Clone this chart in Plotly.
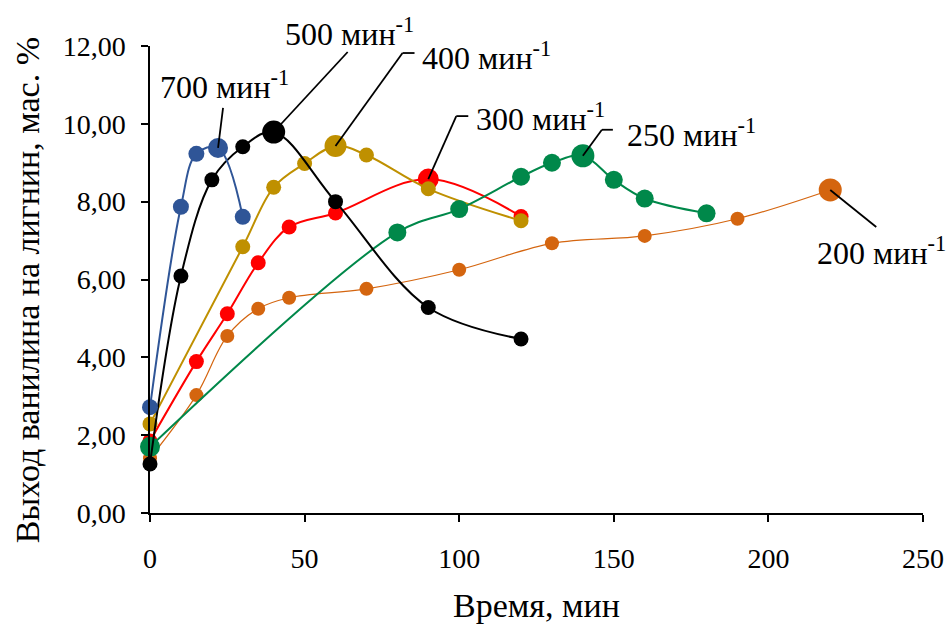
import plotly.graph_objects as go

# ---- data ----
t700 = [0, 10, 15, 22, 30]
y700 = [2.72, 7.87, 9.23, 9.38, 7.61]
t500 = [0, 10, 20, 30, 40, 60, 90, 120]
y500 = [1.26, 6.09, 8.56, 9.41, 9.79, 8.00, 5.28, 4.47]
t400 = [0, 30, 40, 50, 60, 70, 90, 120]
y400 = [2.29, 6.84, 8.37, 8.98, 9.43, 9.20, 8.33, 7.51]
t300 = [0, 15, 25, 35, 45, 60, 90, 120]
y300 = [1.85, 3.89, 5.12, 6.43, 7.35, 7.71, 8.58, 7.62]
t250 = [0, 80, 100, 120, 130, 140, 150, 160, 180]
y250 = [1.70, 7.21, 7.81, 8.64, 9.00, 9.18, 8.56, 8.08, 7.70]
t200 = [0, 15, 25, 35, 45, 70, 100, 130, 160, 190, 220]
y200 = [1.41, 3.03, 4.55, 5.25, 5.53, 5.76, 6.25, 6.93, 7.12, 7.56, 8.30]

labels = ["700", "500", "400", "300", "250", "200"]
label_idx = [3, 4, 4, 6, 5, 10]   # index of the labelled (large) point in each series

x_title = "Время, мин"
y_title = "Выход ванилина на лигнин, мас. %"

FONT = "Liberation Serif, Tinos, Times New Roman, serif"

series = {
    "200": dict(t=t200, y=y200, color="#D4650F", lw=1.2, ms=14, big=23),
    "300": dict(t=t300, y=y300, color="#FF0000", lw=2, ms=15, big=21),
    "400": dict(t=t400, y=y400, color="#BF9000", lw=2, ms=15, big=22),
    "250": dict(t=t250, y=y250, color="#00884A", lw=2, ms=18, big=23),
    "500": dict(t=t500, y=y500, color="#000000", lw=2, ms=15, big=23),
    "700": dict(t=t700, y=y700, color="#2F5597", lw=2, ms=16, big=20),
}

fig = go.Figure()
for name, s in series.items():
    big_i = label_idx[labels.index(name)]
    sizes = [s["ms"]] * len(s["t"])
    sizes[big_i] = s["big"]
    if name == "250":
        sizes[0] = 20
    fig.add_trace(go.Scatter(
        x=s["t"], y=s["y"], mode="lines+markers",
        line=dict(color=s["color"], width=s["lw"], shape="spline", smoothing=1.0),
        marker=dict(color=s["color"], size=sizes, opacity=1, line=dict(width=0)),
        cliponaxis=False, showlegend=False, name=name + " мин-1",
    ))

# leader lines: pixel offsets from the labelled point (dy up positive)
leaders = {
    "700": [(0, 0), (5, 40)],
    "500": [(0, 0), (74, 80)],
    "400": [(0, 0), (67, 93), (79, 93)],
    "300": [(0, 0), (28, 63), (40, 63)],
    "250": [(0, 0), (19, 26), (30, 26)],
    "200": [(0, 0), (46, -37)],
}
# text offsets (left edge dx, middle dy) from labelled point, y down positive in px
text_off = {
    "700": (-60, -63),
    "500": (9, -100),
    "400": (84, -90),
    "300": (46, -62),
    "250": (42, -23),
    "200": (-15, 61),
}

for name in labels:
    s = series[name]
    i = label_idx[labels.index(name)]
    px, py = s["t"][i], s["y"][i]
    pts = leaders[name]
    for (a, b) in zip(pts[:-1], pts[1:]):
        fig.add_shape(type="line", xref="x", yref="y",
                      xsizemode="pixel", ysizemode="pixel",
                      xanchor=px, yanchor=py,
                      x0=a[0], y0=a[1], x1=b[0], y1=b[1],
                      line=dict(color="black", width=1.8), layer="above")
    dx, dy = text_off[name]
    fig.add_annotation(x=px, y=py, xref="x", yref="y",
                       xshift=dx, yshift=-dy,
                       text=f"{name} мин<sup>-1</sup>", showarrow=False,
                       xanchor="left", yanchor="middle",
                       font=dict(family=FONT, size=32, color="black"))

# y-axis title as rotated text (slightly below the plot centre, as in the reference)
fig.add_annotation(x=-0.159, y=0.477, xref="paper", yref="paper",
                   text=y_title, textangle=-90, showarrow=False,
                   xanchor="center", yanchor="middle",
                   font=dict(family=FONT, size=34, color="black"))

fig.update_layout(
    width=947, height=624,
    margin=dict(l=150, r=24, t=46, b=111, autoexpand=False),
    paper_bgcolor="white", plot_bgcolor="white",
    separators=", ",
    font=dict(family=FONT, color="black"),
)
fig.update_xaxes(
    range=[0, 250], tickvals=[0, 50, 100, 150, 200, 250],
    showline=True, linecolor="black", linewidth=1.5,
    ticks="outside", ticklen=7, tickwidth=1.5, tickcolor="black",
    showgrid=False, zeroline=False, automargin=False,
    tickfont=dict(family=FONT, size=28, color="black"),
    ticklabelstandoff=13,
    title=dict(text=x_title, font=dict(family=FONT, size=34, color="black"), standoff=26),
)
fig.update_yaxes(
    range=[0, 12], tickvals=[0, 2, 4, 6, 8, 10, 12], tickformat=".2f",
    showline=True, linecolor="black", linewidth=1.5,
    ticks="outside", ticklen=7, tickwidth=1.5, tickcolor="black",
    showgrid=False, zeroline=False, automargin=False,
    tickfont=dict(family=FONT, size=28, color="black"),
    ticklabelstandoff=10,
)

fig.write_html("out.html")
